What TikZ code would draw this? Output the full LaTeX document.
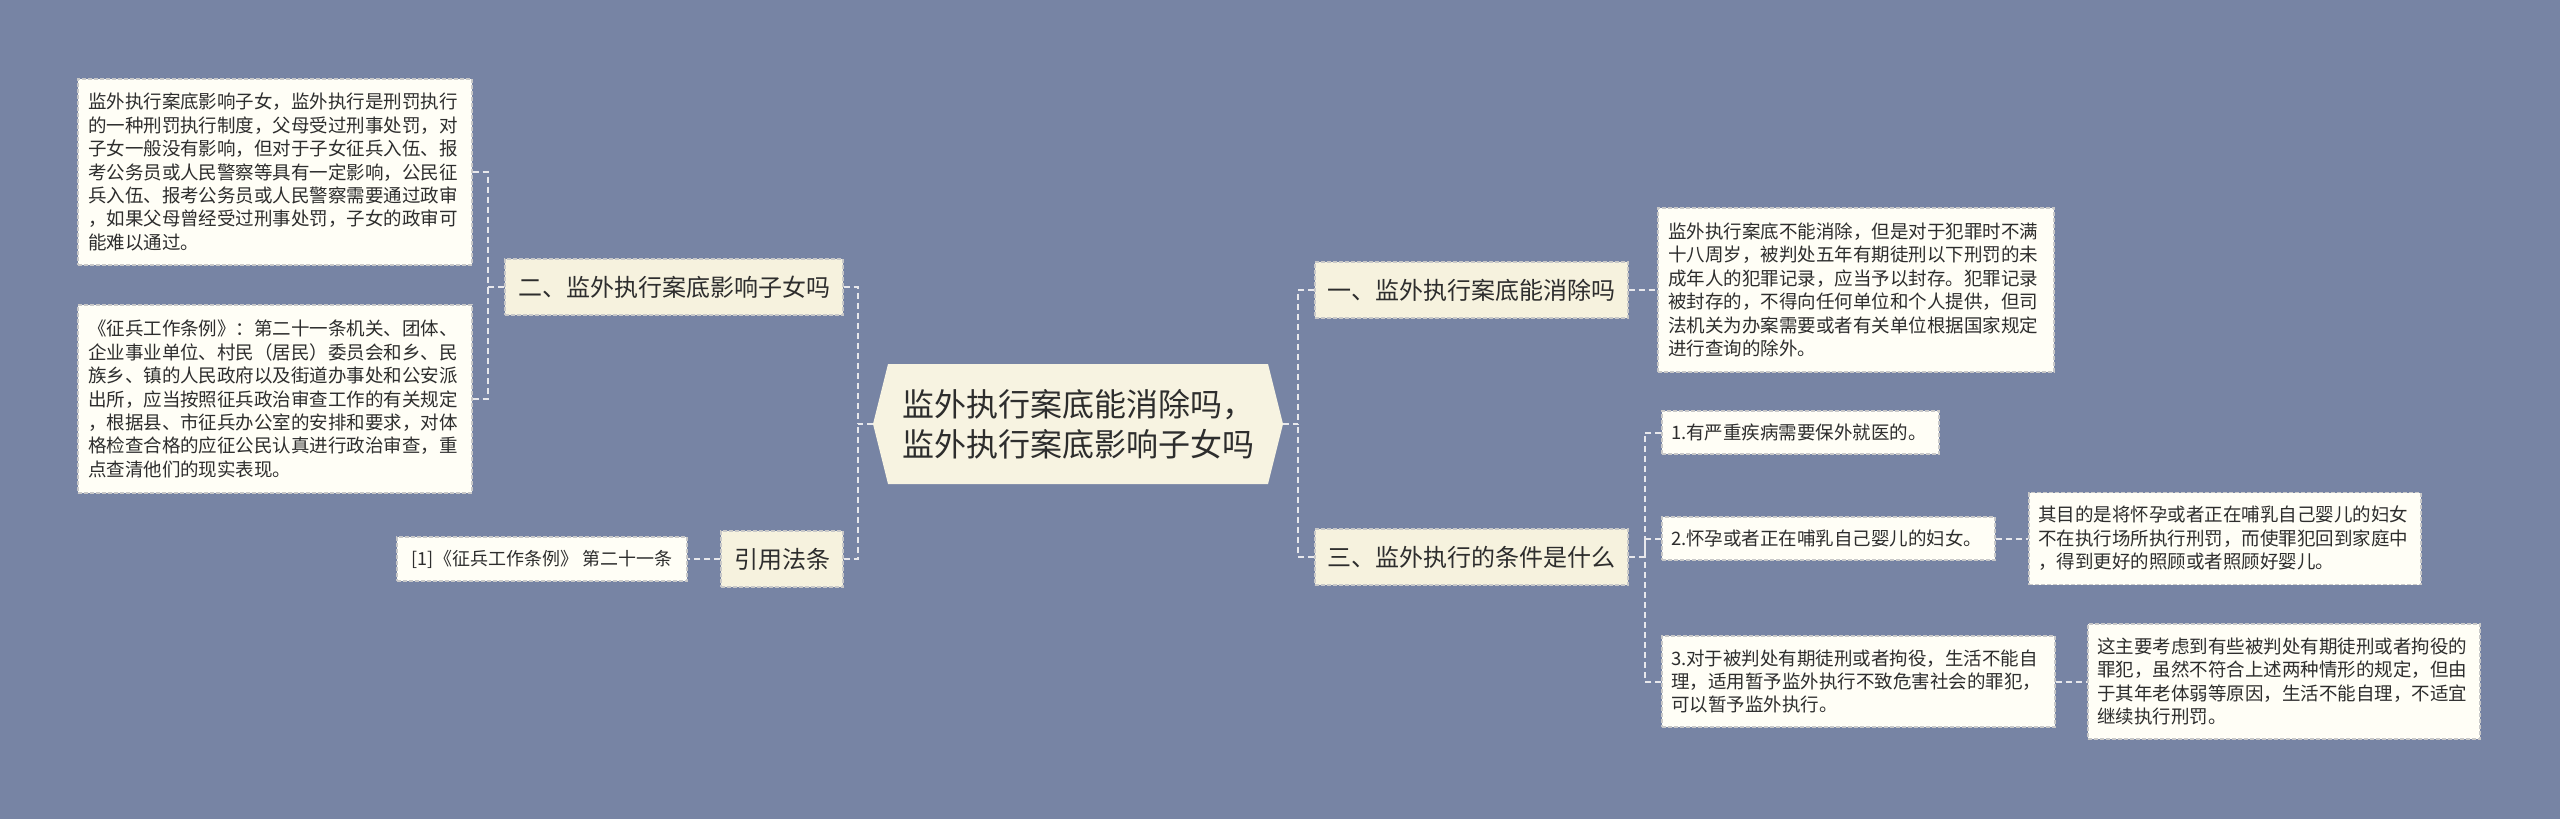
\documentclass[tikz,border=0pt]{standalone}
\usepackage{fontspec}
\setmainfont{Noto Sans CJK SC}
\usetikzlibrary{calc}
\pgfdeclarelayer{bgl}
\pgfdeclarelayer{conl}
\pgfsetlayers{bgl,conl,main}
\definecolor{bgc}{RGB}{119,132,164}
\definecolor{topfill}{RGB}{246,242,222}
\definecolor{leaffill}{RGB}{255,254,246}
\definecolor{hexfill}{RGB}{247,243,225}
\definecolor{txt}{RGB}{45,45,45}
\definecolor{bord}{RGB}{200,200,200}
\definecolor{linec}{RGB}{232,232,236}
\tikzset{
  conn/.style={draw=linec, line width=1pt, dash pattern=on 3pt off 2pt},
  box/.style={draw=bord, line width=0.6pt, dash pattern=on 2pt off 1pt, inner sep=0pt, text=txt, anchor=center},
  leaf/.style={box, fill=leaffill, font=\fontsize{9.25pt}{11.7pt}\selectfont, align=left},
  topic/.style={box, fill=topfill, font=\fontsize{12pt}{15pt}\selectfont, align=center},
}
\begin{document}
\begin{tikzpicture}[x=0.5pt,y=-0.5pt]
\useasboundingbox (0,0) rectangle (2560,819);
\begin{pgfonlayer}{bgl}
\fill[bgc] (0,0) rectangle (2560,819);
\end{pgfonlayer}

% central hexagon
\fill[hexfill] (888,364) -- (1268,364) -- (1283,424) -- (1268,484) -- (888,484) -- (873,424) -- cycle;
\node[text=txt, inner sep=0pt, minimum width=205pt, minimum height=60pt, align=left,
  font=\fontsize{16pt}{20pt}\selectfont] (c) at (1078,424) {监外执行案底能消除吗，\\监外执行案底影响子女吗};

% left side
\node[topic, minimum width=169pt, minimum height=28pt] (er) at (674,287) {二、监外执行案底影响子女吗};
\node[topic, minimum width=61pt, minimum height=28pt] (yy) at (782,559) {引用法条};
\node[leaf, fill=leaffill, minimum width=145pt, minimum height=22pt, font=\fontsize{9pt}{11pt}\selectfont, align=center] (ref) at (542,559) {[1]《征兵工作条例》 第二十一条};
\node[leaf, text width=187pt, minimum width=197pt, minimum height=93pt] (b1) at (275,172) {监外执行案底影响子女，监外执行是刑罚执行\\的一种刑罚执行制度，父母受过刑事处罚，对\\子女一般没有影响，但对于子女征兵入伍、报\\考公务员或人民警察等具有一定影响，公民征\\兵入伍、报考公务员或人民警察需要通过政审\\，如果父母曾经受过刑事处罚，子女的政审可\\能难以通过。};
\node[leaf, text width=187pt, minimum width=197pt, minimum height=94pt] (b2) at (275,399) {《征兵工作条例》：第二十一条机关、团体、\\企业事业单位、村民（居民）委员会和乡、民\\族乡、镇的人民政府以及街道办事处和公安派\\出所，应当按照征兵政治审查工作的有关规定\\，根据县、市征兵办公室的安排和要求，对体\\格检查合格的应征公民认真进行政治审查，重\\点查清他们的现实表现。};

% right side
\node[topic, minimum width=156.5pt, minimum height=28pt] (yi) at (1471.5,290) {一、监外执行案底能消除吗};
\node[topic, minimum width=156.5pt, minimum height=28pt] (san) at (1471.5,557) {三、监外执行的条件是什么};
\node[leaf, text width=188pt, minimum width=198pt, minimum height=82pt] (l1) at (1856,290) {监外执行案底不能消除，但是对于犯罪时不满\\十八周岁，被判处五年有期徒刑以下刑罚的未\\成年人的犯罪记录，应当予以封存。犯罪记录\\被封存的，不得向任何单位和个人提供，但司\\法机关为办案需要或者有关单位根据国家规定\\进行查询的除外。};
\node[leaf, text width=129.5pt, minimum width=138.5pt, minimum height=21.5pt] (i1) at (1800.5,432.5) {1.有严重疾病需要保外就医的。};
\node[leaf, text width=157.5pt, minimum width=166.5pt, minimum height=21.5pt] (i2) at (1828.5,538.5) {2.怀孕或者正在哺乳自己婴儿的妇女。};
\node[leaf, text width=187pt, minimum width=196pt, minimum height=46pt] (l2) at (2225,538.5) {其目的是将怀孕或者正在哺乳自己婴儿的妇女\\不在执行场所执行刑罚，而使罪犯回到家庭中\\，得到更好的照顾或者照顾好婴儿。};
\node[leaf, text width=187.5pt, minimum width=196.5pt, minimum height=45.5pt] (i3) at (1858.5,681.5) {3.对于被判处有期徒刑或者拘役，生活不能自\\理，适用暂予监外执行不致危害社会的罪犯，\\可以暂予监外执行。};
\node[leaf, text width=187pt, minimum width=196pt, minimum height=57.5pt] (l3) at (2284,681.5) {这主要考虑到有些被判处有期徒刑或者拘役的\\罪犯，虽然不符合上述两种情形的规定，但由\\于其年老体弱等原因，生活不能自理，不适宜\\继续执行刑罚。};

% junction points
\coordinate (lv) at (858,424);
\coordinate (lv2) at (488,287);
\coordinate (rv) at (1298,424);
\coordinate (iv) at (1645,557);

\begin{pgfonlayer}{conl}
\draw[conn] (c.west) -- (lv);
\draw[conn] (er.east) -| (lv);
\draw[conn] (yy.east) -| (lv);
\draw[conn] (er.west) -- (lv2);
\draw[conn] (b1.east) -| (lv2);
\draw[conn] (b2.east) -| (lv2);
\draw[conn] (yy.west) -- (ref.east);
\draw[conn] (c.east) -- (rv);
\draw[conn] (yi.west) -| (rv);
\draw[conn] (san.west) -| (rv);
\draw[conn] (yi.east) -- (l1.west);
\draw[conn] (san.east) -- (iv);
\draw[conn] (i1.west) -| (iv);
\draw[conn] (i2.west) -| (iv);
\draw[conn] (i3.west) -| (iv);
\draw[conn] (i2.east) -- (l2.west);
\draw[conn] (i3.east) -- (l3.west);
\end{pgfonlayer}
\end{tikzpicture}
\end{document}
